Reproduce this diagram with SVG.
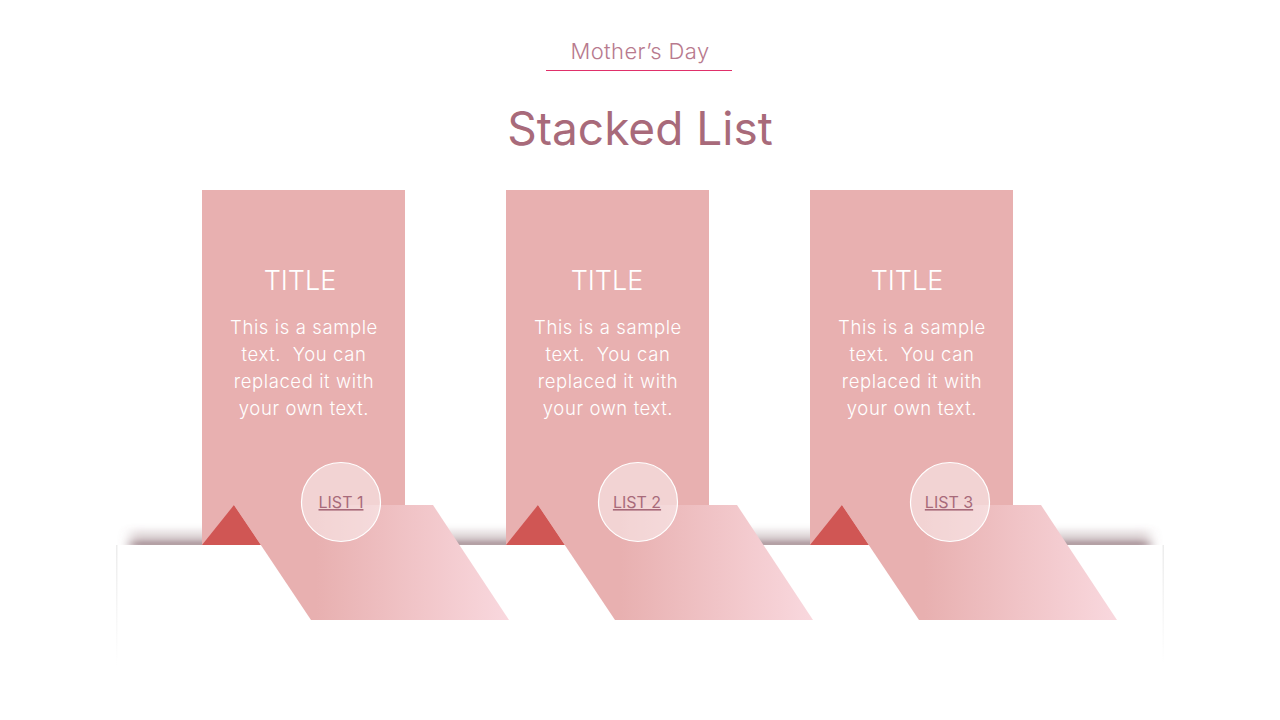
<svg xmlns="http://www.w3.org/2000/svg" width="1280" height="720" viewBox="0 0 1280 720">
<defs>
<linearGradient id="rib1" gradientUnits="userSpaceOnUse" x1="234" y1="0" x2="509" y2="0"><stop offset="0.3" stop-color="#e8b0b0"/><stop offset="1" stop-color="#f9d8de"/></linearGradient>
<linearGradient id="rib2" gradientUnits="userSpaceOnUse" x1="538" y1="0" x2="813" y2="0"><stop offset="0.3" stop-color="#e8b0b0"/><stop offset="1" stop-color="#f9d8de"/></linearGradient>
<linearGradient id="rib3" gradientUnits="userSpaceOnUse" x1="842" y1="0" x2="1117" y2="0"><stop offset="0.3" stop-color="#e8b0b0"/><stop offset="1" stop-color="#f9d8de"/></linearGradient>
<linearGradient id="side" x1="0" y1="0" x2="0" y2="1"><stop offset="0" stop-color="#ececec"/><stop offset="1" stop-color="#ffffff"/></linearGradient>
<linearGradient id="shad" x1="0" y1="0" x2="0" y2="1"><stop offset="0" stop-color="#8a6a72" stop-opacity="0"/><stop offset="0.6" stop-color="#8a6a72" stop-opacity="0.35"/><stop offset="1" stop-color="#7a5a62" stop-opacity="0.85"/></linearGradient>
<filter id="blur" x="-10%" y="-100%" width="120%" height="300%"><feGaussianBlur stdDeviation="6 2"/></filter>
</defs>
<style>
.card{fill:#e8b0b0}
.tri{fill:#d05654}
.circ{fill:#ffffff;fill-opacity:0.45;stroke:#ffffff;stroke-width:1.2}
.ttl{font-family:Inter,"Liberation Sans",sans-serif;font-weight:300;font-size:27px;fill:#ffffff;text-anchor:middle}
.body{font-family:Inter,"Liberation Sans",sans-serif;font-weight:300;font-size:18.5px;letter-spacing:0.6px;fill:#ffffff;text-anchor:middle;white-space:pre}
.lst{font-family:Inter,"Liberation Sans",sans-serif;font-weight:400;font-size:16px;fill:#a86a7a;text-anchor:middle;text-decoration:underline}
</style>
<rect width="1280" height="720" fill="#ffffff"/>
<g id="header">
<text x="640" y="59" font-family="Inter,'Liberation Sans',sans-serif" font-weight="300" font-size="22" letter-spacing="0.4" fill="#b87a8e" text-anchor="middle">Mother’s Day</text>
<line x1="546" y1="70.5" x2="732" y2="70.5" stroke="#e0306a" stroke-width="1.2"/>
<text x="640" y="145" font-family="Inter,'Liberation Sans',sans-serif" font-weight="400" font-size="46" fill="#a86a7a" text-anchor="middle">Stacked List</text>
</g>
<g id="base">
<rect x="130" y="526" width="1020" height="21" fill="url(#shad)" filter="url(#blur)"/>
<rect x="116" y="545" width="1048" height="125" fill="#ffffff"/>
<rect x="116" y="545" width="1.5" height="120" fill="url(#side)"/>
<rect x="1162.5" y="545" width="1.5" height="120" fill="url(#side)"/>
</g>
<g id="card1">
<rect class="card" x="202" y="190" width="203" height="355"/>
<text class="ttl" x="300" y="290">TITLE</text>
<text class="body" x="304" y="334">This is a sample</text>
<text class="body" x="304" y="361">text.  You can</text>
<text class="body" x="304" y="388">replaced it with</text>
<text class="body" x="304" y="415">your own text.</text>
<polygon class="tri" points="202,545 234,505 261,545"/>
<polygon points="234,505 433,505 509,620 311,620" fill="url(#rib1)"/>
<circle class="circ" cx="341" cy="502" r="39.5"/>
<text class="lst" x="341" y="508">LIST 1</text>
</g>
<g id="card2">
<rect class="card" x="506" y="190" width="203" height="355"/>
<text class="ttl" x="607" y="290">TITLE</text>
<text class="body" x="608" y="334">This is a sample</text>
<text class="body" x="608" y="361">text.  You can</text>
<text class="body" x="608" y="388">replaced it with</text>
<text class="body" x="608" y="415">your own text.</text>
<polygon class="tri" points="506,545 538,505 565,545"/>
<polygon points="538,505 737,505 813,620 615,620" fill="url(#rib2)"/>
<circle class="circ" cx="638" cy="502" r="39.5"/>
<text class="lst" x="637" y="508">LIST 2</text>
</g>
<g id="card3">
<rect class="card" x="810" y="190" width="203" height="355"/>
<text class="ttl" x="907" y="290">TITLE</text>
<text class="body" x="912" y="334">This is a sample</text>
<text class="body" x="912" y="361">text.  You can</text>
<text class="body" x="912" y="388">replaced it with</text>
<text class="body" x="912" y="415">your own text.</text>
<polygon class="tri" points="810,545 842,505 869,545"/>
<polygon points="842,505 1041,505 1117,620 919,620" fill="url(#rib3)"/>
<circle class="circ" cx="950" cy="502" r="39.5"/>
<text class="lst" x="949" y="508">LIST 3</text>
</g>
<g id="connectors"/>
</svg>
